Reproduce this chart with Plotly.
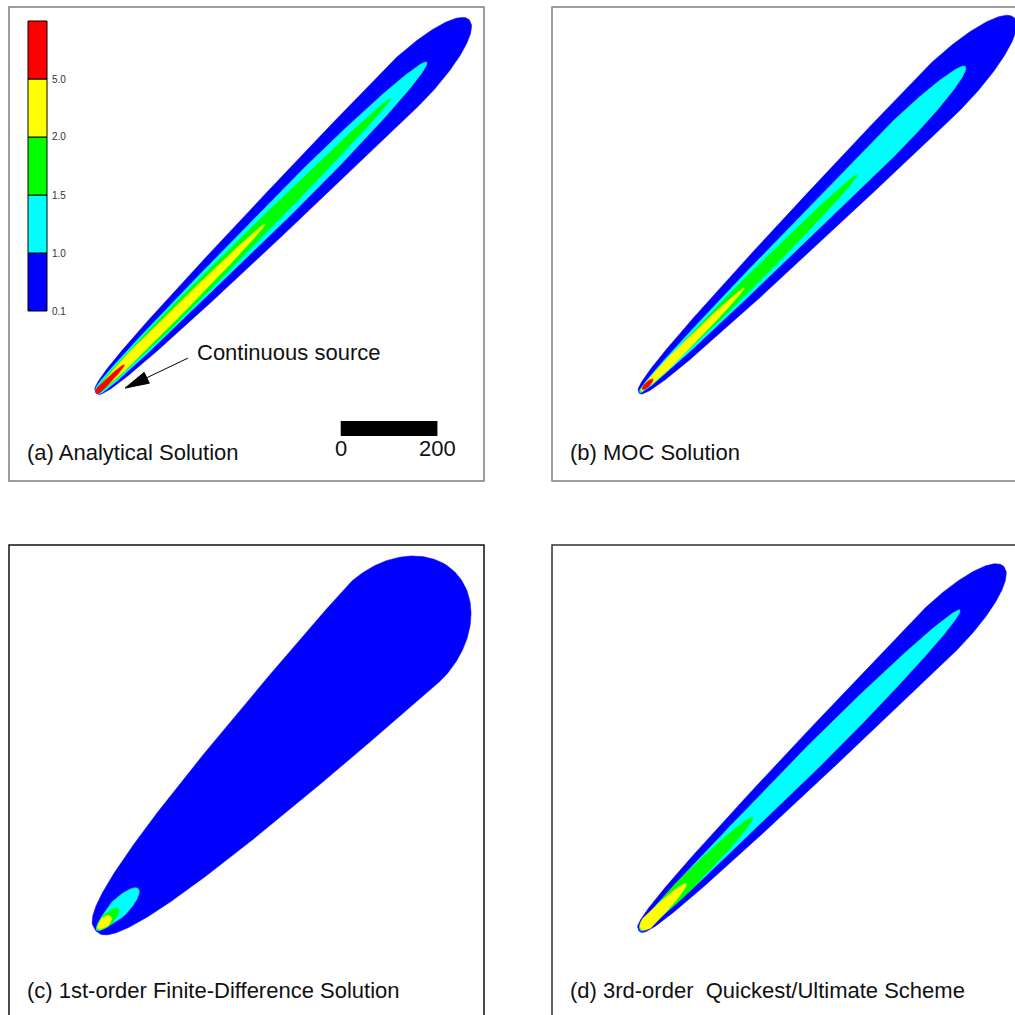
import numpy as np
import plotly.graph_objects as go

W, H = 1015, 1015
M_PER_PX = 200 / 96.7          # metres per pixel (from the 0-200 scale bar)

# ---- legend / levels --------------------------------------------------------
LEVEL_LABELS = ["0.1", "1.0", "1.5", "2.0", "5.0"]
BAND_COLORS = ["#0000FF", "#00FFFF", "#00FF00", "#FFFF00", "#FF0000"]

# ---- plume bands, one tuple per contour band (blue -> red) -------------------
# (start along flow [m], end along flow [m], max half-width [m], peak position frac, tail exponent)
ANALYTICAL = [(-6, 1086, 52, 0.82, 0.35), (-4, 962, 25, 0.60, 0.25),
              (-2, 856, 16, 0.25, 0.30), (0, 488, 11, 0.20, 0.40), (-6, 77, 6, 0.10, 0.50)]
MOC = [(-6, 1092, 56, 0.80, 0.40), (-4, 949, 27, 0.75, 0.40),
       (-2, 633, 13, 0.45, 0.40), (0, 302, 9, 0.25, 0.40), (4, 35, 5, 0.30, 0.50)]
FIRST_ORDER = [(-6, 1044, 138, 0.83, 0.42), (-4, 118, 19, 0.50, 0.50),
               (-2, 60, 12, 0.40, 0.50), (0, 37, 10, 0.50, 0.50)]
QUICKEST = [(-6, 1061, 54, 0.82, 0.35), (-3, 933, 24, 0.55, 0.30),
            (-1, 327, 16, 0.35, 0.40), (0, 132, 13, 0.12, 0.40)]

PANEL_BANDS = [ANALYTICAL, MOC, FIRST_ORDER, QUICKEST]
PANEL_TITLES = ["(a) Analytical Solution", "(b) MOC Solution",
                "(c) 1st-order Finite-Difference Solution",
                "(d) 3rd-order  Quickest/Ultimate Scheme"]

FLOW_ANGLE_DEG = 45
SCALE_BAR = [0, 200]
SCALE_BAR_X0 = 502
ARROW_TAIL = (186, 68)
ARROW_TIP = (56, 6)
SOURCE_LABEL = "Continuous source"

# ---- layout geometry (pixels) -----------------------------------------------
PANEL_ORIGINS = [(9, 7), (552, 7), (9, 545), (552, 545)]
PANEL_W, PANEL_H = 475, 474
SRC_PX = (89, 384)            # source position inside a panel frame
FRAME_COLORS = ["#7f7f7f", "#7f7f7f", "#111111", "#333333"]

FONT = "Liberation Sans, Arial, sans-serif"
TEXT_SIZE = 22

fig = go.Figure()


def band_outline(s0, s1, hw, tp, p, n=500):
    t = np.linspace(0, 1, n)
    s = s0 + t * (s1 - s0)
    w = np.where(t < tp, hw * np.clip(t / tp, 0, 1) ** p,
                 hw * np.sqrt(np.clip(1 - ((t - tp) / (1 - tp)) ** 2, 0, 1)))
    ss = np.concatenate([s, s[::-1]])
    nn = np.concatenate([w, -w[::-1]])
    a = np.deg2rad(FLOW_ANGLE_DEG)
    x = ss * np.cos(a) - nn * np.sin(a)
    y = ss * np.sin(a) + nn * np.cos(a)
    return x, y


shapes = []
annotations = []
for i, (bands, title) in enumerate(zip(PANEL_BANDS, PANEL_TITLES)):
    left, top = PANEL_ORIGINS[i]
    right_vis = min(left + PANEL_W, W)
    bot_vis = min(top + PANEL_H, H)
    k = M_PER_PX
    xr = [-SRC_PX[0] * k, (right_vis - left - SRC_PX[0]) * k]
    yr = [SRC_PX[1] * k - (bot_vis - top) * k, SRC_PX[1] * k]
    sfx = "" if i == 0 else str(i + 1)
    ax_common = dict(visible=False, showgrid=False, zeroline=False, fixedrange=True)
    fig.update_layout(**{
        "xaxis" + sfx: dict(domain=[left / W, right_vis / W], range=xr, **ax_common),
        "yaxis" + sfx: dict(domain=[1 - bot_vis / H, 1 - top / H], range=yr, **ax_common),
    })
    xa, ya = "x" + sfx, "y" + sfx
    for j, (s0, s1, hw, tp, p) in enumerate(bands):
        x, y = band_outline(s0, s1, hw, tp, p)
        fig.add_trace(go.Scatter(x=x, y=y, mode="lines", fill="toself",
                                 fillcolor=BAND_COLORS[j],
                                 line=dict(color=BAND_COLORS[j], width=0.5),
                                 hoverinfo="skip", showlegend=False,
                                 xaxis=xa, yaxis=ya))
    # frame
    shapes.append(dict(type="rect", xref="paper", yref="paper",
                       x0=left / W, x1=(left + PANEL_W) / W,
                       y0=1 - (top + PANEL_H) / H, y1=1 - top / H,
                       line=dict(color=FRAME_COLORS[i], width=1.5)))
    # title
    annotations.append(dict(text=title, x=-151, y=-128, xref=xa, yref=ya,
                            xanchor="left", yanchor="middle", showarrow=False,
                            font=dict(family=FONT, size=TEXT_SIZE, color="#111")))

# ---- scale bar (panel a) ----------------------------------------------------
bar_len = SCALE_BAR[1] - SCALE_BAR[0]
shapes.append(dict(type="rect", xref="x", yref="y", x0=SCALE_BAR_X0,
                   x1=SCALE_BAR_X0 + bar_len, y0=-93, y1=-62,
                   fillcolor="black", line=dict(width=0)))
for v in SCALE_BAR:
    annotations.append(dict(text=str(v), x=SCALE_BAR_X0 + v - SCALE_BAR[0], y=-118,
                            xref="x", yref="y", xanchor="center", yanchor="middle",
                            showarrow=False,
                            font=dict(family=FONT, size=TEXT_SIZE, color="#111")))

# ---- source arrow (panel a) -------------------------------------------------
tail = np.array(ARROW_TAIL, float)
tip = np.array(ARROW_TIP, float)
u = (tip - tail) / np.linalg.norm(tip - tail)
perp = np.array([-u[1], u[0]])
head_len, head_hw = 24 * M_PER_PX, 6 * M_PER_PX
base = tip - u * head_len
shapes.append(dict(type="line", xref="x", yref="y", x0=tail[0], y0=tail[1],
                   x1=base[0], y1=base[1], line=dict(color="black", width=1)))
p1, p2 = base + perp * head_hw, base - perp * head_hw
shapes.append(dict(type="path", xref="x", yref="y",
                   path=f"M {tip[0]},{tip[1]} L {p1[0]},{p1[1]} L {p2[0]},{p2[1]} Z",
                   fillcolor="black", line=dict(color="black", width=1)))
annotations.append(dict(text=SOURCE_LABEL, x=200, y=79, xref="x", yref="y",
                        xanchor="left", yanchor="middle", showarrow=False,
                        font=dict(family=FONT, size=TEXT_SIZE, color="#111")))

# ---- colour legend (panel a) ------------------------------------------------
cb_x0, cb_x1, cb_top, cb_step = 28, 47, 21, 58
n_lv = len(BAND_COLORS)
for j, col in enumerate(BAND_COLORS):
    y_bot = cb_top + (n_lv - j) * cb_step
    y_top = y_bot - cb_step
    shapes.append(dict(type="rect", xref="paper", yref="paper",
                       x0=cb_x0 / W, x1=cb_x1 / W, y0=1 - y_bot / H, y1=1 - y_top / H,
                       fillcolor=col, line=dict(color="black", width=1)))
    annotations.append(dict(text=LEVEL_LABELS[j], x=(cb_x1 + 3) / W, y=1 - y_bot / H,
                            xref="paper", yref="paper", xanchor="left", yanchor="middle",
                            showarrow=False, font=dict(family=FONT, size=10, color="#333")))

fig.update_layout(width=W, height=H, margin=dict(l=0, r=0, t=0, b=0),
                  paper_bgcolor="white", plot_bgcolor="rgba(0,0,0,0)",
                  shapes=shapes, annotations=annotations, showlegend=False)

fig.write_html("out.html", config={"displayModeBar": False},
               post_script="document.body.style.margin='0';")
